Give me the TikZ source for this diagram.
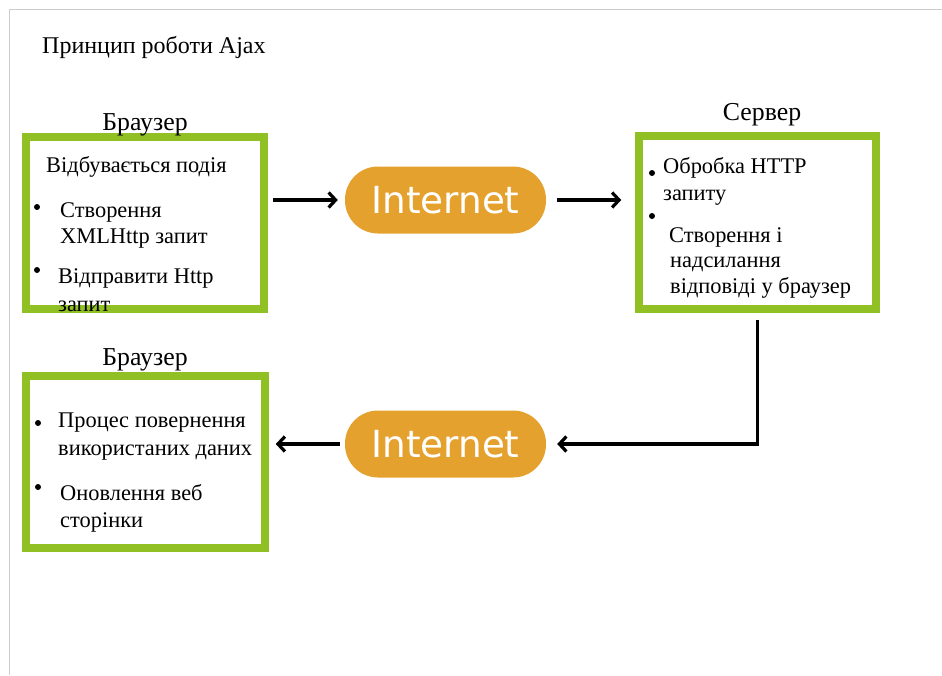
\documentclass[tikz,border=0pt]{standalone}
\usepackage{fontspec}
\setmainfont{Liberation Serif}
\newfontfamily\inetfont{DejaVu Sans}
\usetikzlibrary{arrows.meta}
\definecolor{boxgreen}{RGB}{145,192,36}
\definecolor{pillorange}{RGB}{229,161,46}
\definecolor{framegray}{RGB}{204,204,204}
\tikzset{
  greenbox/.style={draw=boxgreen, line width=7.5pt, inner sep=0pt, fill=white},
  pill/.style={fill=pillorange, rounded corners=33pt, minimum width=201pt, minimum height=67pt,
    inner sep=0pt, text=white, font=\inetfont\fontsize{37.3}{40}\selectfont},
  txt/.style={anchor=base west, inner sep=0pt, font=\fontsize{22.4}{26}\selectfont},
  lbl/.style={inner sep=0pt, font=\fontsize{25.8}{28}\selectfont},
  ttl/.style={inner sep=0pt, font=\fontsize{24}{28}\selectfont},
  bul/.style={circle, fill=black, inner sep=0pt, minimum size=6pt},
  arr/.style={line width=3.2pt, -{Straight Barb[length=7pt,width=15pt,line width=3.2pt]}}
}
\begin{document}
\begin{tikzpicture}[x=1pt,y=-1pt]
\useasboundingbox (0,0) rectangle (942,675);
\coordinate (fa) at (942,9);
\coordinate (fb) at (9,9);
\coordinate (fc) at (9,675);
\draw[framegray, line width=1pt] (fa) -- (fb) -- (fc);

\node[ttl, anchor=base west] (title) at (42,53) {Принцип роботи Ajax};

% boxes
\node[greenbox, minimum width=238pt, minimum height=172pt] (b1) at (145,223) {};
\node[greenbox, minimum width=237pt, minimum height=173pt] (srv) at (757.5,222.5) {};
\node[greenbox, minimum width=239pt, minimum height=172pt] (b3) at (145.5,462) {};

% labels
\node[lbl, anchor=base] (l1) at (145,130) {Браузер};
\node[lbl, anchor=base] (l2) at (762,120) {Сервер};
\node[lbl, anchor=base] (l3) at (145,365) {Браузер};

% box 1 text
\node[txt] (t11) at (46,172) {Відбувається подія};
\node[bul] (d11) at (37,207) {};
\node[txt] (t12) at (60,217) {Створення};
\node[txt] (t13) at (60,243) {XMLHttp запит};
\node[bul] (d12) at (37,270) {};
\node[txt] (t14) at (58,283) {Відправити Http};
\node[txt] (t15) at (58,311) {запит};

% box 2 text
\node[bul] (d21) at (652,173) {};
\node[txt] (t21) at (663,173) {Обробка HTTP};
\node[txt] (t22) at (663,200) {запиту};
\node[bul] (d22) at (652,216) {};
\node[txt] (t23) at (669,242) {Створення і};
\node[txt] (t24) at (670,267) {надсилання};
\node[txt] (t25) at (670,293) {відповіді у браузер};

% box 3 text
\node[bul] (d31) at (38,423) {};
\node[txt] (t31) at (58,427) {Процес повернення};
\node[txt] (t32) at (58,455) {використаних даних};
\node[bul] (d32) at (38,487) {};
\node[txt] (t33) at (60,500) {Оновлення веб};
\node[txt] (t34) at (60,527) {сторінки};

% internet pills
\node[pill] (in1) at (445.5,200) {Internet};
\node[pill] (in2) at (445.5,444) {Internet};

% connectors
\draw[arr, shorten <=5pt, shorten >=7pt] (in1.west -| b1.east) -- (in1.west);
\draw[arr, shorten <=11pt, shorten >=14pt] (in1.east) -- (in1.east -| srv.west);
\draw[arr, shorten <=7pt, shorten >=11pt] (srv.south) |- (in2.east);
\draw[arr, shorten <=5pt, shorten >=7pt] (in2.west) -- (in2.west -| b3.east);
\end{tikzpicture}
\end{document}
